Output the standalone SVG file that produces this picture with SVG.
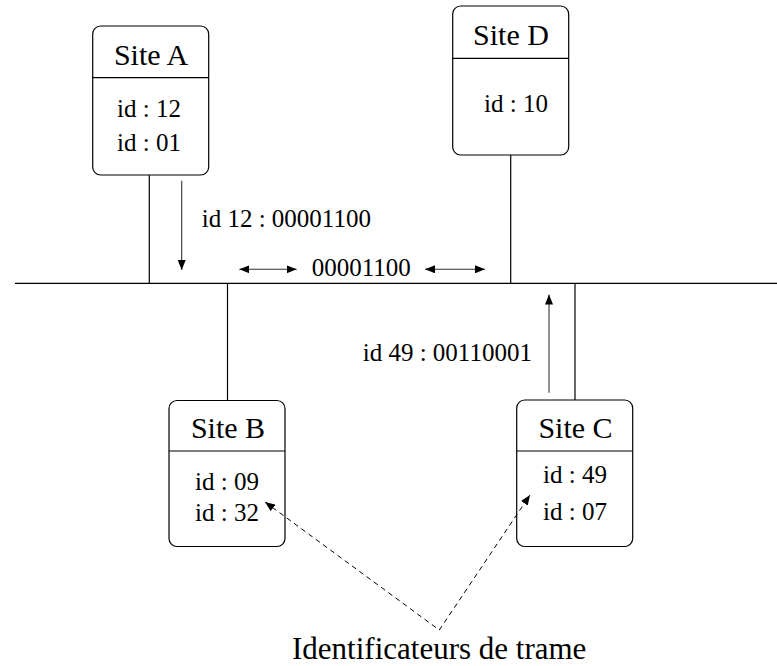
<svg xmlns="http://www.w3.org/2000/svg" width="777" height="666" viewBox="0 0 777 666">
<style>
.box{fill:#fff;stroke:#000;stroke-width:1.2}
.ln{stroke:#000;stroke-width:1.2;fill:none}
.ar{stroke:#333;stroke-width:1.1;fill:none}
.ds{stroke:#000;stroke-width:1;fill:none;stroke-dasharray:5,4}
.t{font-family:"Liberation Serif","Times New Roman",serif;fill:#000}
.h{font-size:30px;text-anchor:middle}
.s{font-size:25px}
.c{text-anchor:middle}
.big{font-size:31px}
</style>
<defs>
<marker id="ah" viewBox="0 0 10 8" refX="10" refY="4" markerWidth="10" markerHeight="8" markerUnits="userSpaceOnUse" orient="auto-start-reverse">
<path d="M0,0 L10,4 L0,8 Z" fill="#000"/>
</marker>
</defs>
<rect width="777" height="666" fill="#fff"/>
<g id="siteA">
<rect class="box" x="92.7" y="26" width="116" height="149" rx="8"/>
<line class="ln" x1="92.7" y1="77.7" x2="208.7" y2="77.7"/>
<text class="t h" x="151" y="65">Site A</text>
<text class="t s c" x="149" y="116.7">id : 12</text>
<text class="t s c" x="149" y="150.7">id : 01</text>
</g>
<g id="siteD">
<rect class="box" x="452.7" y="6" width="116" height="149" rx="8"/>
<line class="ln" x1="452.7" y1="58.3" x2="568.7" y2="58.3"/>
<text class="t h" x="511" y="45">Site D</text>
<text class="t s c" x="516" y="111.7">id : 10</text>
</g>
<g id="siteB">
<rect class="box" x="169" y="400.5" width="116" height="146" rx="8"/>
<line class="ln" x1="169" y1="451" x2="285" y2="451"/>
<text class="t h" x="228" y="437.7">Site B</text>
<text class="t s c" x="227" y="490">id : 09</text>
<text class="t s c" x="227" y="521">id : 32</text>
</g>
<g id="siteC">
<rect class="box" x="516.7" y="400" width="116" height="146.5" rx="8"/>
<line class="ln" x1="516.7" y1="451" x2="632.7" y2="451"/>
<text class="t h" x="575.5" y="437.7">Site C</text>
<text class="t s c" x="575" y="483.3">id : 49</text>
<text class="t s c" x="575" y="520">id : 07</text>
</g>
<g id="label">
<text class="t big" x="292" y="659">Identificateurs de trame</text>
</g>
<g id="connectors">
<line class="ln" x1="15" y1="283.3" x2="777" y2="283.3"/>
<line class="ln" x1="149.3" y1="175" x2="149.3" y2="283.3"/>
<line class="ln" x1="510.7" y1="155" x2="510.7" y2="283.3"/>
<line class="ln" x1="227.5" y1="283.3" x2="227.5" y2="400.5"/>
<line class="ln" x1="575" y1="283.3" x2="575" y2="400"/>
<line class="ar" x1="181.7" y1="180.7" x2="181.7" y2="270" marker-end="url(#ah)"/>
<line class="ar" x1="239.3" y1="269.3" x2="296.7" y2="269.3" marker-start="url(#ah)" marker-end="url(#ah)"/>
<line class="ar" x1="425" y1="269.3" x2="485" y2="269.3" marker-start="url(#ah)" marker-end="url(#ah)"/>
<line class="ar" x1="549" y1="392.7" x2="549" y2="294.5" marker-end="url(#ah)"/>
<polyline class="ds" points="265,502 439.3,630 530,495" marker-start="url(#ah)" marker-end="url(#ah)"/>
<text class="t s" x="201.7" y="226.7">id 12 : 00001100</text>
<text class="t s" x="311.7" y="276">00001100</text>
<text class="t s" x="362.7" y="360.7">id 49 : 00110001</text>
</g>
</svg>
